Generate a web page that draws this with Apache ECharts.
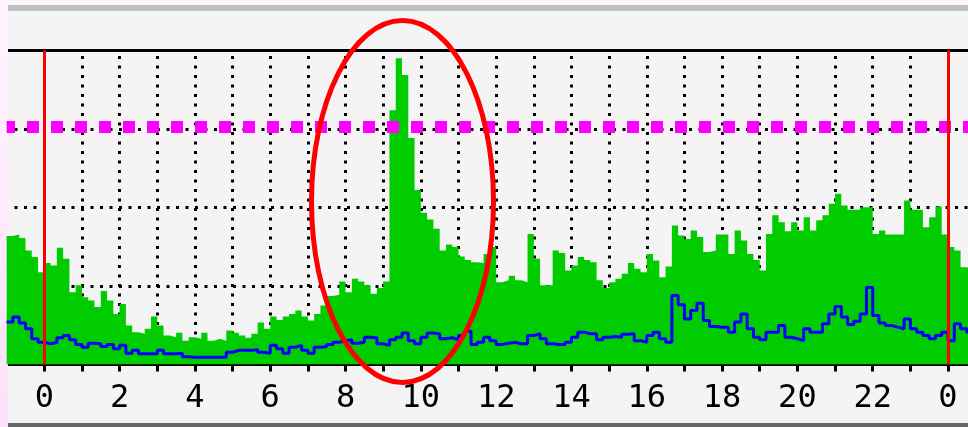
<!DOCTYPE html>
<html>
<head>
<meta charset="utf-8">
<script src="https://cdn.jsdelivr.net/npm/echarts@6/dist/echarts.min.js"></script>
<style>
  html, body { margin: 0; padding: 0; background: #fff5fd; }
  #chart { width: 968px; height: 427px; }
</style>
</head>
<body>
<div id="chart"></div>
<script>
// 10 minute samples, first one starts 23:00 of the day before
const inTraffic = [
  40.9, 41.4, 40.3, 36.3, 34.2, 29.4, 32.3, 31.5, 37.2, 33.7,
  23.0, 25.2, 21.4, 20.4, 18.3, 23.4, 20.4, 16.1, 19.3, 12.4,
  10.3, 9.8, 11.4, 15.3, 12.4, 9.2, 8.7, 10.1, 7.6, 8.7,
  8.2, 10.1, 7.6, 8.2, 7.6, 10.8, 10.1, 9.2, 8.5, 9.8,
  13.4, 11.4, 15.3, 14.2, 15.3, 16.1, 17.2, 15.3, 14.0, 16.1,
  18.8, 21.8, 22.2, 26.4, 23.0, 27.3, 26.4, 25.2, 22.5, 24.4,
  26.4, 81.0, 97.5, 92.2, 72.1, 55.6, 48.3, 46.2, 43.2, 36.3,
  38.2, 37.4, 34.4, 33.3, 32.6, 32.3, 35.2, 37.4, 26.2, 26.8,
  28.3, 26.8, 26.2, 41.6, 33.7, 25.2, 25.2, 36.3, 35.5, 29.9,
  31.5, 34.2, 33.3, 32.6, 26.8, 24.4, 26.2, 27.3, 28.9, 32.3,
  30.5, 29.4, 35.2, 33.1, 27.8, 31.2, 44.3, 41.1, 40.0, 42.7,
  40.6, 35.8, 36.3, 41.4, 41.4, 35.2, 42.7, 39.5, 35.2, 33.3,
  29.9, 41.6, 47.5, 45.3, 42.4, 45.3, 42.7, 46.9, 42.7, 45.9,
  47.5, 51.2, 54.4, 50.6, 49.3, 49.3, 50.1, 50.1, 41.6, 42.7,
  41.4, 41.4, 41.4, 52.2, 49.3, 49.3, 43.7, 46.9, 50.3, 41.4,
  37.4, 36.3, 31.0, 30.5, 30.5
];
const outTraffic = [
  13.5, 15.1, 13.2, 11.4, 8.2, 7.1, 6.6, 7.0, 8.5, 9.2,
  7.9, 6.4, 5.5, 6.8, 6.6, 5.7, 6.4, 5.0, 6.1, 3.6,
  4.5, 3.4, 3.4, 3.4, 4.5, 3.4, 3.4, 3.6, 2.5, 2.3,
  2.3, 2.3, 2.3, 2.3, 2.3, 3.9, 4.5, 4.5, 4.5, 4.7,
  3.9, 3.6, 6.1, 5.0, 3.6, 5.5, 6.1, 4.5, 3.6, 5.5,
  5.7, 6.4, 7.1, 7.6, 7.9, 6.8, 7.1, 8.7, 8.5, 6.6,
  6.1, 7.9, 8.7, 10.0, 7.6, 6.6, 8.7, 10.0, 9.8, 8.2,
  8.5, 7.9, 9.2, 10.6, 6.4, 7.1, 8.7, 7.6, 6.4, 6.8,
  7.1, 6.6, 6.6, 9.2, 9.8, 8.2, 6.6, 6.4, 6.4, 7.1,
  8.7, 10.3, 9.8, 9.8, 7.9, 8.7, 8.9, 8.7, 9.6, 9.8,
  7.6, 7.1, 9.2, 10.3, 8.2, 7.1, 22.0, 19.0, 14.5, 17.2,
  19.5, 14.0, 12.1, 11.9, 11.9, 10.3, 13.5, 16.1, 11.4, 8.7,
  7.9, 10.3, 10.3, 12.4, 8.7, 8.2, 7.6, 11.4, 10.3, 10.3,
  13.0, 16.1, 18.5, 15.1, 12.7, 13.8, 16.1, 24.5, 15.6, 13.2,
  12.4, 11.9, 11.4, 14.5, 11.4, 10.3, 9.2, 8.2, 9.2, 10.3,
  7.6, 13.0, 11.4, 10.3, 10.3
];
const threshold = 75.8;
const dayMarks = [6, 150]; // sample index of 00:00

// category names carry the day so they stay unique: "d0 23:00", "d1 00:00", ...
const times = [];
for (let k = 0; k < inTraffic.length; k++) {
  const total = 23 * 60 + k * 10;
  const m = total % 1440;
  times.push('d' + Math.floor(total / 1440) + ' ' +
    String(Math.floor(m / 60)).padStart(2, '0') + ':' + String(m % 60).padStart(2, '0'));
}
const onHour = (i) => i % 6 === 0;

const chart = echarts.init(document.getElementById('chart'), null, { renderer: 'canvas' });
chart.setOption({
  animation: false,
  backgroundColor: '#fff5fd',
  graphic: [
    { type: 'rect', z: -5, shape: { x: 8, y: 5, width: 960, height: 6 }, style: { fill: '#c0c0c0' } },
    { type: 'rect', z: -5, shape: { x: 8, y: 11, width: 960, height: 412 }, style: { fill: '#f4f4f4' } },
    { type: 'rect', z: -5, shape: { x: 8, y: 423, width: 960, height: 4 }, style: { fill: '#666666' } },
    {
      type: 'rect', z: 1, shape: { x: 0, y: 0, width: 8, height: 427 },
      style: {
        fill: new echarts.graphic.LinearGradient(0, 0, 0, 1, [
          { offset: 0, color: '#fff4fd' }, { offset: 1, color: '#fde0fa' }
        ])
      }
    },
    {
      type: 'ellipse', z: 100, silent: true,
      shape: { cx: 402.5, cy: 201.5, rx: 91, ry: 181 },
      style: { fill: 'none', stroke: '#ff0000', lineWidth: 5 }
    }
  ],
  grid: { left: 6.65, top: 50.5, width: 966.46, height: 314, outerBoundsMode: 'none' },
  xAxis: [
    {
      type: 'category',
      data: times,
      boundaryGap: false,
      axisLine: { lineStyle: { color: '#000', width: 3 } },
      axisTick: { interval: onHour, length: 7, lineStyle: { color: '#000', width: 3 } },
      axisLabel: {
        interval: (i) => i % 12 === 6,
        formatter: (v) => String(parseInt(v.split(' ')[1], 10)),
        margin: 18,
        color: '#000',
        fontFamily: 'DejaVu Sans Mono',
        fontSize: 32
      },
      splitLine: {
        show: true,
        interval: onHour,
        lineStyle: { color: '#000', width: 3, type: [3, 6.5], dashOffset: 4 }
      }
    },
    {
      type: 'category',
      position: 'top',
      data: times,
      boundaryGap: false,
      axisLine: { lineStyle: { color: '#000', width: 3 } },
      axisTick: { show: false },
      axisLabel: { show: false },
      splitLine: { show: false }
    }
  ],
  yAxis: {
    type: 'value',
    min: 0,
    max: 100,
    interval: 25,
    axisLine: { show: false },
    axisTick: { show: false },
    axisLabel: { show: false },
    splitLine: { lineStyle: { color: '#000', width: 3, type: [3, 6.5], dashOffset: 1.65 } }
  },
  series: [
    {
      name: 'in',
      type: 'line',
      step: 'end',
      data: inTraffic,
      symbol: 'none',
      silent: true,
      lineStyle: { width: 0 },
      areaStyle: { color: '#00cc00', opacity: 1 },
      markLine: {
        silent: true,
        symbol: ['none', 'none'],
        label: { show: false },
        lineStyle: { color: '#ff00ff', width: 12, type: [12, 12], dashOffset: 3.65, cap: 'butt' },
        data: [{ yAxis: threshold }]
      }
    },
    {
      name: 'out',
      type: 'line',
      step: 'end',
      data: outTraffic,
      symbol: 'none',
      silent: true,
      lineStyle: { color: '#0000ff', width: 3 },
      markLine: {
        silent: true,
        symbol: ['none', 'none'],
        label: { show: false },
        lineStyle: { color: '#ff0000', width: 3, type: 'solid' },
        data: dayMarks.map((i) => ({ xAxis: i }))
      }
    }
  ]
});
</script>
</body>
</html>
